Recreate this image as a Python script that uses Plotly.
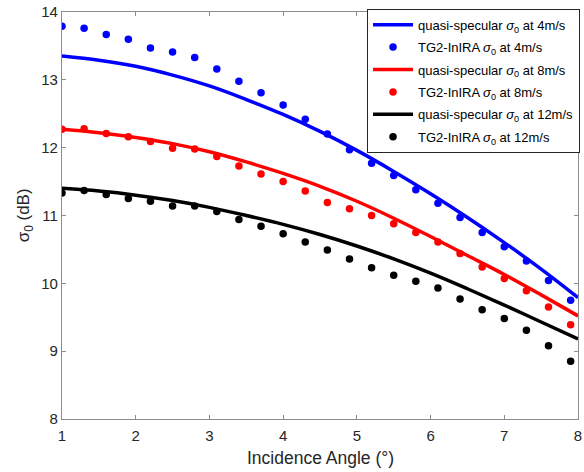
import plotly.graph_objects as go

# Data points (TG2-InIRA)
angles_pts = [1.0, 1.3, 1.6, 1.9, 2.2, 2.5, 2.8, 3.1, 3.4, 3.7, 4.0, 4.3,
              4.6, 4.9, 5.2, 5.5, 5.8, 6.1, 6.4, 6.7, 7.0, 7.3, 7.6, 7.9]
tg2_4 = [13.79, 13.76, 13.67, 13.60, 13.47, 13.41, 13.33, 13.16, 12.98, 12.81, 12.63, 12.42,
         12.20, 11.97, 11.77, 11.59, 11.38, 11.18, 10.97, 10.75, 10.54, 10.33, 10.04, 9.75]
tg2_8 = [12.27, 12.28, 12.21, 12.16, 12.09, 11.99, 11.98, 11.87, 11.73, 11.61, 11.50, 11.36,
         11.19, 11.10, 11.00, 10.88, 10.75, 10.61, 10.44, 10.24, 10.07, 9.89, 9.65, 9.39]
tg2_12 = [11.33, 11.37, 11.31, 11.25, 11.21, 11.14, 11.14, 11.06, 10.94, 10.84, 10.73, 10.61,
          10.49, 10.36, 10.23, 10.12, 10.03, 9.93, 9.77, 9.61, 9.48, 9.31, 9.08, 8.85]

# Quasi-specular model curves
angles_line = [1.0, 1.5, 2.0, 2.5, 3.0, 3.5, 4.0, 4.5, 5.0, 5.5, 6.0, 6.5, 7.0, 7.5, 8.0]
qs_4 = [13.35, 13.29, 13.20, 13.07, 12.91, 12.71, 12.49, 12.24, 11.96, 11.65, 11.32, 10.97, 10.60, 10.21, 9.79]
qs_8 = [12.27, 12.22, 12.15, 12.06, 11.94, 11.79, 11.62, 11.43, 11.21, 10.96, 10.69, 10.41, 10.13, 9.83, 9.52]
qs_12 = [11.40, 11.36, 11.30, 11.22, 11.12, 11.00, 10.87, 10.72, 10.55, 10.36, 10.15, 9.92, 9.68, 9.43, 9.18]

x_ticks = [1, 2, 3, 4, 5, 6, 7, 8]
y_ticks = [8, 9, 10, 11, 12, 13, 14]
x_title = "Incidence Angle (°)"
y_title = "σ<sub>0</sub> (dB)"

series = [
    ("4m/s", "#0000ff", qs_4, tg2_4),
    ("8m/s", "#ff0000", qs_8, tg2_8),
    ("12m/s", "#000000", qs_12, tg2_12),
]

fig = go.Figure()
for i, (label, color, qs, tg) in enumerate(series):
    fig.add_trace(go.Scatter(
        x=angles_line, y=qs, mode="lines",
        line=dict(color=color, width=3.5, shape="spline", smoothing=1.0),
        name=f"quasi-specular <i>σ</i><sub>0</sub> at {label}",
        legendgroup=f"g{2*i}",
    ))
    fig.add_trace(go.Scatter(
        x=angles_pts, y=tg, mode="markers",
        marker=dict(color=color, size=7.5),
        name=f"TG2-InIRA <i>σ</i><sub>0</sub> at {label}",
        legendgroup=f"g{2*i+1}",
    ))

axis_common = dict(
    showgrid=False, zeroline=False, automargin=False,
    showline=True, linecolor="#8c8c8c", linewidth=1.2, mirror="ticks",
    ticks="inside", ticklen=4, tickcolor="#8c8c8c", tickwidth=1,
    tickfont=dict(family="Liberation Sans, Arial", size=15, color="#262626"),
)

fig.update_layout(
    width=584, height=472,
    margin=dict(l=62, r=5, t=12, b=53),
    paper_bgcolor="white", plot_bgcolor="white",
    font=dict(family="Liberation Sans, Arial", color="#262626"),
    xaxis=dict(range=[1, 8], tickvals=x_ticks, ticktext=[str(v) for v in x_ticks],
               ticklabelstandoff=3, **axis_common),
    yaxis=dict(range=[8, 14], tickvals=y_ticks, ticktext=[str(v) for v in y_ticks],
               **axis_common),
    legend=dict(
        x=1.002, y=1.008, xanchor="right", yanchor="top",
        bgcolor="white", bordercolor="#262626", borderwidth=1,
        font=dict(family="Liberation Sans, Arial", size=13, color="#000000"),
        tracegroupgap=2.5, itemwidth=40,
    ),
    showlegend=True,
    annotations=[
        dict(text=x_title, xref="paper", yref="paper", x=0.5, y=-0.0958,
             xanchor="center", yanchor="middle", showarrow=False,
             font=dict(family="Liberation Sans, Arial", size=17.5, color="#262626")),
        dict(text=y_title, xref="paper", yref="paper", x=-0.072, y=0.5,
             xanchor="center", yanchor="middle", showarrow=False, textangle=-90,
             font=dict(family="Liberation Sans, Arial", size=17, color="#262626")),
    ],
)

fig.write_html("out.html", config={"displayModeBar": False},
               post_script="document.body.style.margin='0px';document.body.style.overflow='hidden';")
